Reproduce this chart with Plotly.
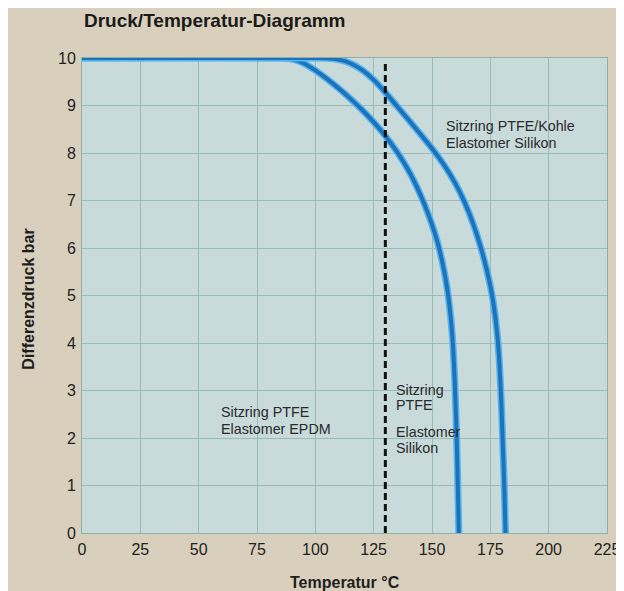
import plotly.graph_objects as go

# ---- data ----
temp_ptfe = [0, 85, 90, 95, 100, 105, 110, 115, 120, 125, 130, 135, 140, 145, 148, 151, 153, 155, 156.5, 158, 159, 159.8, 160.5, 161, 161.5]
druck_ptfe = [10, 10, 9.975, 9.89, 9.74, 9.56, 9.36, 9.145, 8.91, 8.65, 8.36, 8.025, 7.625, 7.125, 6.765, 6.345, 6.005, 5.565, 5.15, 4.55, 3.94, 3.14, 2.12, 1.12, 0]

temp_kohle = [0, 100, 105, 110, 115, 120, 125, 130, 135, 140, 145, 150, 155, 160, 164, 167.5, 170.5, 173, 175, 176.5, 177.8, 178.8, 179.7, 180.4, 181, 181.5]
druck_kohle = [10, 10, 9.995, 9.965, 9.89, 9.75, 9.54, 9.275, 8.985, 8.695, 8.4, 8.095, 7.76, 7.36, 6.96, 6.53, 6.08, 5.63, 5.2, 4.78, 4.26, 3.66, 2.75, 1.8, 0.95, 0]

grenze_temp = [130, 130]
grenze_druck = [0, 9.92]

x_ticks = [0, 25, 50, 75, 100, 125, 150, 175, 200, 225]
y_ticks = [0, 1, 2, 3, 4, 5, 6, 7, 8, 9, 10]

FONT = "Liberation Sans, Arial, Helvetica, sans-serif"
BEIGE = "#d8d0bc"
PLOTBG = "#c8dada"
GRID = "#99bbb6"
CORE = "#1c72bb"
HALO = "#58b4ec"

fig = go.Figure()

for xs, ys in [(temp_ptfe, druck_ptfe), (temp_kohle, druck_kohle)]:
    fig.add_trace(go.Scatter(x=xs, y=ys, mode="lines",
                             line=dict(color=HALO, width=7, shape="spline", smoothing=0.6),
                             hoverinfo="skip", showlegend=False))
    fig.add_trace(go.Scatter(x=xs, y=ys, mode="lines",
                             line=dict(color=CORE, width=4, shape="spline", smoothing=0.6),
                             showlegend=False))

fig.add_trace(go.Scatter(x=grenze_temp, y=grenze_druck, mode="lines",
                         line=dict(color="#111111", width=3, dash="7px,4px"),
                         showlegend=False))

txt = dict(family=FONT, size=14.3, color="#2a2a2a")
label_lines = [
    (155.2, 8.57, "Sitzring PTFE/Kohle"),
    (155.2, 8.21, "Elastomer Silikon"),
    (58.8, 2.55, "Sitzring PTFE"),
    (58.8, 2.20, "Elastomer EPDM"),
    (133.5, 3.01, "Sitzring"),
    (133.5, 2.695, "PTFE"),
    (133.5, 2.133, "Elastomer"),
    (133.5, 1.79, "Silikon"),
]
for lx, ly, lt in label_lines:
    fig.add_annotation(x=lx, y=ly, text=lt, xref="x", yref="y",
                       xanchor="left", yanchor="middle", align="left",
                       showarrow=False, font=txt)

# title and axis titles
fig.add_annotation(x=0, y=1.079, xref="paper", yref="paper", xanchor="left", yanchor="middle",
                   text="<b>Druck/Temperatur-Diagramm</b>", showarrow=False,
                   font=dict(family="Liberation Sans Narrow, Arial Narrow, " + FONT, size=19, color="#1a1a1a"))
fig.add_annotation(x=-0.1026, y=0.4916, xref="paper", yref="paper", xanchor="center", yanchor="middle",
                   text="<b>Differenzdruck bar</b>", textangle=-90, showarrow=False,
                   font=dict(family=FONT, size=16, color="#1e1e1e"))
fig.add_annotation(x=0.5, y=-0.104, xref="paper", yref="paper", xanchor="center", yanchor="middle",
                   text="<b>Temperatur °C</b>", showarrow=False,
                   font=dict(family=FONT, size=16, color="#1e1e1e"))

fig.update_xaxes(range=[0, 225], tickvals=x_ticks, ticktext=[str(v) for v in x_ticks],
                 showgrid=True, gridcolor=GRID, gridwidth=1, zeroline=False,
                 showline=True, linecolor="#8fb0aa", linewidth=1, mirror=True,
                 ticks="", ticklabelstandoff=2,
                 tickfont=dict(family=FONT, size=16, color="#222222"))
fig.update_yaxes(range=[0, 10], tickvals=y_ticks, ticktext=[str(v) for v in y_ticks],
                 showgrid=True, gridcolor=GRID, gridwidth=1, zeroline=False,
                 showline=True, linecolor="#8fb0aa", linewidth=1, mirror=True,
                 ticks="", ticklabelstandoff=2,
                 tickfont=dict(family=FONT, size=16, color="#222222"))

fig.update_layout(width=624, height=591, autosize=False,
                  margin=dict(l=74, r=17, t=50, b=66),
                  paper_bgcolor=BEIGE, plot_bgcolor=PLOTBG,
                  showlegend=False)

fig.write_html("out.html", config={"responsive": False})
